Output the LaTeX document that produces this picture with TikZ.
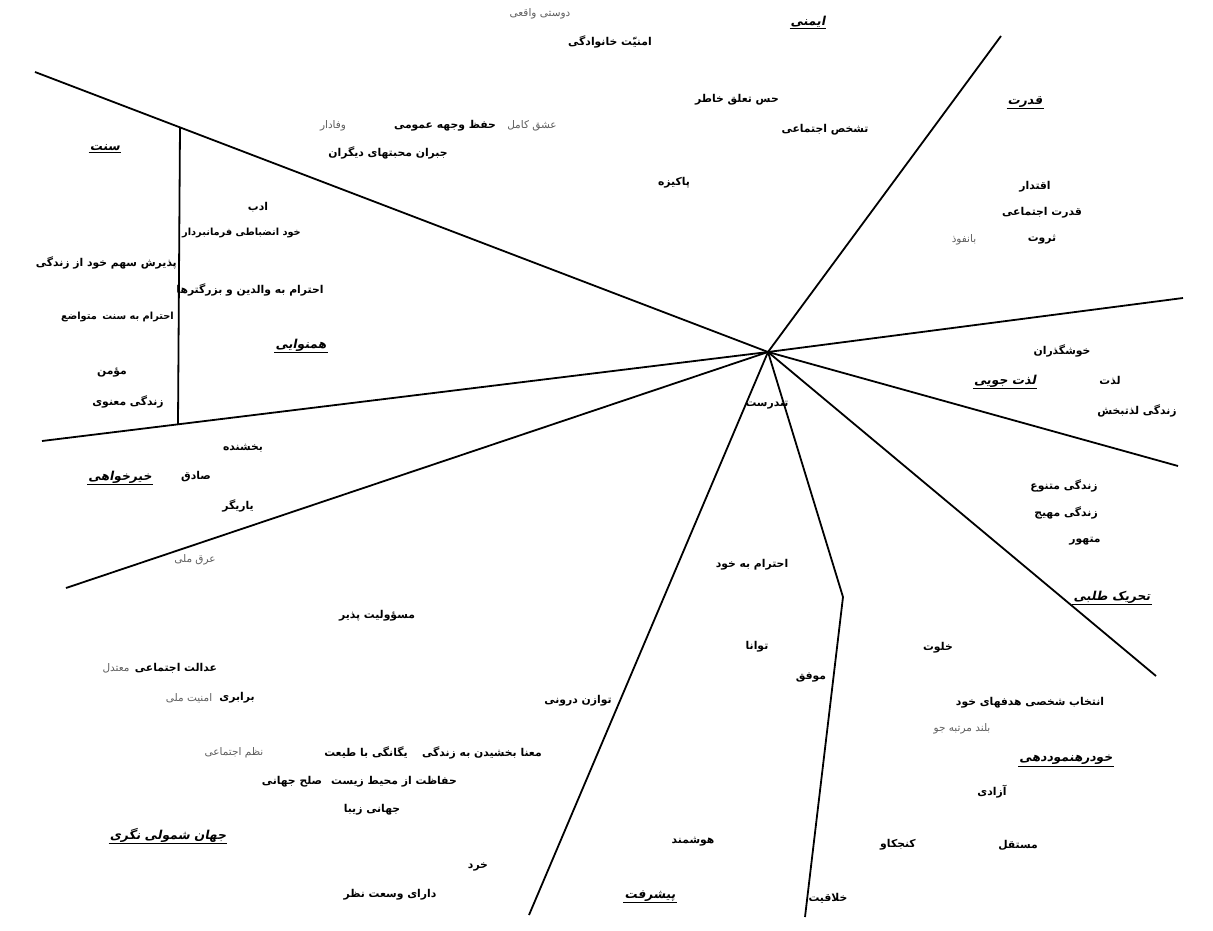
\documentclass[tikz,border=0pt]{standalone}
\usepackage{fontspec}
\usepackage{tikz}
\TeXXeTstate=1
\newfontfamily\farsi[Script=Arabic]{DejaVu Sans}
\newfontfamily\farsigray[Script=Arabic,Color=5E5E5E]{DejaVu Sans}
\newfontfamily\farsihd[Script=Arabic,FakeSlant=0.2]{DejaVu Sans Bold}

\begin{document}
\begin{tikzpicture}[
  x=1pt,y=-1pt,
  fa/.style={inner sep=1pt,
             execute at begin node={\setbox0\hbox\bgroup\beginR},
             execute at end node={\endR\egroup\box0}},
  v/.style={fa,font=\farsi\bfseries\fontsize{10.8}{12}\selectfont},
  vs/.style={fa,font=\farsi\bfseries\fontsize{9.8}{12}\selectfont},
  g/.style={fa,font=\farsigray\fontsize{10.5}{12}\selectfont},
  hd/.style={fa,font=\farsihd\fontsize{12.3}{14}\selectfont,
             append after command={(\tikzlastnode.south west) edge[line width=0.9pt] (\tikzlastnode.south east)}},
  ln/.style={line width=1.8pt}
]
\useasboundingbox (0,0) rectangle (1213,931);
% the rays
\coordinate (c)  at (768,352);
\coordinate (e1) at (35,72);
\coordinate (e2) at (1001,36);
\coordinate (e3) at (1183,298);
\coordinate (e4) at (1178,466);
\coordinate (e5) at (1156,676);
\coordinate (k6) at (843,597);
\coordinate (e6) at (805,917);
\coordinate (e7) at (529,915);
\coordinate (e8) at (66,588);
\coordinate (e9) at (42,441);
\coordinate (v1) at (180,127);
\coordinate (v2) at (178,424);
\foreach \e in {e1,e2,e3,e4,e5,e7,e8,e9}
  \draw[ln] (c) -- (\e);
\draw[ln] (c) -- (k6) -- (e6);
\draw[ln] (v1) -- (v2);

% top
\node[g]  (dusti)     at (540,14)  {دوستی واقعی};
\node[hd] (imeni)     at (808,22)  {ایمنی};
\node[v]  (amniat)    at (610,42)  {امنیّت خانوادگی};
\node[v]  (hes)       at (737,100) {حس تعلق خاطر};
\node[hd] (qodrat)    at (1025,102) {قدرت};
\node[g]  (vafadar)   at (333,126) {وفادار};
\node[v]  (hefz)      at (445,126) {حفظ وجهه عمومی};
\node[g]  (eshq)      at (532,126) {عشق کامل};
\node[v]  (tashakhos) at (825,130) {تشخص اجتماعی};
\node[hd] (sonnat)    at (105,148) {سنت};
\node[v]  (jobran)    at (388,153) {جبران محبتهای دیگران};
\node[v]  (pakize)    at (674,183) {پاکیزه};
\node[v]  (eqtedar)   at (1035,187) {اقتدار};
\node[v]  (adab)      at (258,207) {ادب};
\node[v]  (qodratej)  at (1042,213) {قدرت اجتماعی};
\node[vs,anchor=east] (khodenz) at (302,233) {خود انضباطی};
\node[vs,anchor=west] (farman)  at (181,233) {فرمانبردار};
\node[v]  (servat)    at (1042,240) {ثروت};
\node[g]  (banofuz)   at (964,240) {بانفوذ};
% middle
\node[v,anchor=east] (paziresh) at (178,263) {پذیرش سهم خود از زندگی};
\node[v]  (ehtvaled)  at (250,290) {احترام به والدین و بزرگترها};
\node[vs,anchor=east] (ehtsonnat) at (175,317) {احترام به سنت};
\node[vs,anchor=west] (motavaze)  at (60,317)  {متواضع};
\node[hd] (hamnavai)  at (301,345) {همنوایی};
\node[v]  (khosh)     at (1062,351) {خوشگذران};
\node[v]  (momen)     at (112,373) {مؤمن};
\node[hd] (lezzatjui) at (1005,381) {لذت جویی};
\node[v]  (lezzat)    at (1110,381) {لذت};
\node[v]  (tandorost) at (767,405) {تندرست};
\node[v]  (manavi)    at (128,402) {زندگی معنوی};
\node[v]  (lezzatb)   at (1137,411) {زندگی لذتبخش};
\node[v]  (bakhshande) at (243,448) {بخشنده};
\node[hd] (kheir)     at (120,477) {خیرخواهی};
\node[v]  (sadeq)     at (196,477) {صادق};
\node[v]  (motanavve) at (1064,486) {زندگی متنوع};
\node[v]  (yarigar)   at (238,506) {یاریگر};
\node[v]  (mohayyej)  at (1066,513) {زندگی مهیج};
\node[v]  (motahavver) at (1085,541) {متهور};
\node[g]  (erq)       at (195,560) {عرق ملی};
\node[v]  (ehtkhod)   at (752,565) {احترام به خود};
\node[hd] (tahrik)    at (1112,597) {تحریک طلبی};
% bottom
\node[v]  (masuliat)  at (377,616) {مسؤولیت پذیر};
\node[v]  (tavana)    at (757,647) {توانا};
\node[v]  (khalvat)   at (938,648) {خلوت};
\node[v]  (edalat)    at (176,668) {عدالت اجتماعی};
\node[g]  (motadel)   at (116,668) {معتدل};
\node[v]  (movaffaq)  at (811,677) {موفق};
\node[v]  (barabari)  at (237,698) {برابری};
\node[g]  (amnmelli)  at (189,698) {امنیت ملی};
\node[v]  (tavazon)   at (578,701) {توازن درونی};
\node[v]  (entekhab)  at (1030,703) {انتخاب شخصی هدفهای خود};
\node[g]  (boland)    at (962,729) {بلند مرتبه جو};
\node[g]  (nazm)      at (234,753) {نظم اجتماعی};
\node[v]  (yeganegi)  at (366,753) {یگانگی با طیعت};
\node[v]  (mana)      at (482,753) {معنا بخشیدن به زندگی};
\node[hd] (khodrah)   at (1066,760) {خودرهنموددهی};
\node[v]  (hefazat)   at (394,782) {حفاظت از محیط زیست};
\node[v]  (solh)      at (292,782) {صلح جهانی};
\node[v]  (azadi)     at (992,792) {آزادی};
\node[v]  (ziba)      at (372,810) {جهانی زیبا};
\node[hd] (jahan)     at (168,835) {جهان شمولی نگری};
\node[v]  (mostaqel)  at (1018,845) {مستقل};
\node[v]  (konjkav)   at (898,845) {کنجکاو};
\node[v]  (hushmand)  at (693,842) {هوشمند};
\node[v]  (kherad)    at (478,867) {خرد};
\node[v]  (vosat)     at (390,895) {دارای وسعت نظر};
\node[hd] (pishraft)  at (650,896) {پیشرفت};
\node[v]  (khalaqiat) at (828,898) {خلاقیت};
\end{tikzpicture}
\end{document}
